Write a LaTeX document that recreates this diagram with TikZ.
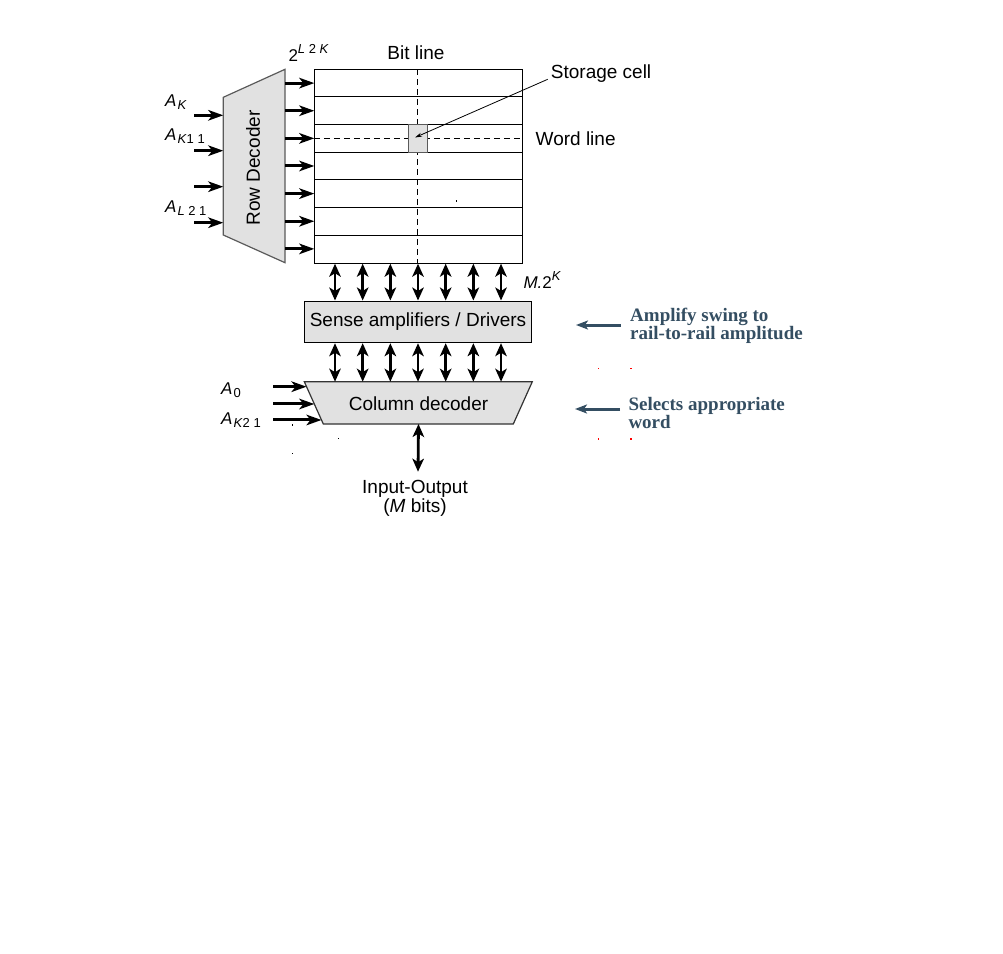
\documentclass[tikz,border=0pt]{standalone}
\usepackage{fontspec}
\setmainfont{Liberation Sans}
\newfontfamily\notefont{Liberation Serif}
\usetikzlibrary{arrows.meta,calc}

\definecolor{boxgray}{RGB}{225,225,225}
\definecolor{edgegray}{RGB}{90,90,90}
\definecolor{noteblue}{RGB}{52,78,98}

\tikzset{
  txt/.style={inner sep=0pt,font=\fontsize{19}{19.5}\selectfont},
  sym/.style={inner sep=0pt,font=\fontsize{17}{17}\selectfont},
  note/.style={inner sep=0pt,align=left,text=noteblue,font=\notefont\bfseries\fontsize{19}{16}\selectfont},
  sig/.style={line width=3pt,-{Stealth[length=15pt,width=10.5pt,inset=4pt]}},
  bus/.style={line width=2.8pt,{Stealth[length=13pt,width=11.5pt,inset=3.5pt]}-{Stealth[length=13pt,width=11.5pt,inset=3.5pt]}},
  pointer/.style={noteblue,line width=3pt,-{Stealth[length=12pt,width=9pt,inset=3pt]}},
  decoder/.style={draw=edgegray,fill=boxgray,line width=1.2pt},
  gridline/.style={line width=1pt},
  wire/.style={line width=1pt,dash pattern=on 6pt off 4pt},
}
\newcommand\addr[1]{\textit{A}\kern1pt\raisebox{-3.5pt}{\fontsize{13}{13}\selectfont#1}}

\begin{document}
\begin{tikzpicture}[x=1pt,y=-1pt]
\useasboundingbox (0,0) rectangle (1003,953);

% row decoder
\coordinate (rdtl) at (223.3,97.3);
\coordinate (rdtr) at (285,69.3);
\coordinate (rdbr) at (285,262.7);
\coordinate (rdbl) at (223.3,235);
\draw[decoder] (rdtl) -- (rdtr) -- (rdbr) -- (rdbl) -- cycle;
\node[txt,rotate=90] (rowdec) at (253,168) {Row Decoder};

% memory array
\node[draw,gridline,inner sep=0pt,minimum width=208pt,minimum height=193.4pt,anchor=north west] (array) at (314.3,69.3) {};
\foreach \i in {1,...,6}
  \draw[gridline] ($(array.north west)+(0,{27.63*\i})$) -- ($(array.north east)+(0,{27.63*\i})$);
\coordinate (cellc) at (417.8,138.3);
\draw[wire] (cellc |- array.north) -- (cellc |- array.south);
\draw[wire] (cellc -| array.west) -- (cellc -| array.east);
\node[draw=edgegray,fill=boxgray,line width=1pt,inner sep=0pt,minimum width=19pt,minimum height=28pt] (cell) at (cellc) {};

\node[txt,anchor=base] (bitline) at (416,59.3) {Bit line};
\node[txt,anchor=base west] (storage) at (550.7,78.3) {Storage cell};
\node[txt,anchor=base west] (wordline) at (535.5,145) {Word line};
\coordinate (celltip) at (415,137.5);
\draw[line width=0.8pt,-{Stealth[length=7pt,width=4pt]}] ($(storage.base west)+(-3,1)$) -- (celltip);
\node[sym,anchor=base west] (rows) at (288.3,61.7) {2\raisebox{8.5pt}{\fontsize{13}{13}\selectfont\textit{L} 2 \textit{K}}};

% decoder outputs and address inputs
\foreach \i in {0,...,6}
  \draw[sig] ($(rdtr)+(0,{13.8+27.63*\i})$) -- ($(array.north west)+(0,{13.8+27.63*\i})$);
\foreach \y in {115.3,150.7,186.7,222.7}
  \draw[sig] (194.3,\y) -- (rdtl |- 0,\y);
\node[sym,anchor=base west] (ak) at (165,106) {\addr{\textit{K}}};
\node[sym,anchor=base west] (ak1) at (165,140) {\addr{\textit{K}1 1}};
\node[sym,anchor=base west] (al1) at (165,212) {\addr{\textit{L} 2 1}};

% sense amplifiers
\node[txt,draw,fill=boxgray,line width=1pt,minimum width=227.4pt,minimum height=41.7pt] (sense) at (418,321.85) {Sense amplifiers / Drivers};
\foreach \i [evaluate=\i as \x using 335+27.67*\i] in {0,...,6}
  \draw[bus] (\x,0 |- array.south) -- (\x,0 |- sense.north);
\node[sym,anchor=base west] (width) at (523.3,288.3) {\textit{M.}2\raisebox{8pt}{\fontsize{13}{13}\selectfont\textit{K}}};

% column decoder
\coordinate (cdtl) at (304.3,381.7);
\coordinate (cdtr) at (532.3,381.7);
\coordinate (cdbr) at (513.3,424);
\coordinate (cdbl) at (323.3,424);
\draw[decoder,draw=black!80] (cdtl) -- (cdtr) -- (cdbr) -- (cdbl) -- cycle;
\node[txt] (coldec) at (418.5,403.5) {Column decoder};
\foreach \i [evaluate=\i as \x using 335+27.67*\i] in {0,...,6}
  \draw[bus] (\x,0 |- sense.south) -- (\x,0 |- cdtl);
\foreach \t/\name in {0.118/c0,0.527/c1,0.905/c2}
  \path ($(cdtl)!\t!(cdbl)$) coordinate (\name);
\foreach \name in {c0,c1,c2}
  \draw[sig] (\name -| 273.3,0) -- (\name);
\node[sym,anchor=base west] (a0) at (221,394) {\addr{0}};
\node[sym,anchor=base west] (ak2) at (221,424) {\addr{\textit{K}2 1}};

% input-output
\coordinate (io) at (418,471.7);
\draw[bus] (coldec |- cdbl) -- (io);
\node[txt,align=center,anchor=north] (iotext) at (415,480) {Input-Output\\(\textit{M} bits)};

% notes
\node[note,anchor=north west] (note1) at (630,307.5) {Amplify swing to\\rail-to-rail amplitude};
\node[note,anchor=north west,font=\notefont\bfseries\fontsize{19}{15}\selectfont] (note2) at (628.3,397) {Selects appropriate\\word};
\coordinate (n1) at (576,325);
\coordinate (n2) at (575,409);
\draw[pointer] ($(n1 -| note1.west)+(-9.5,0)$) -- (n1);
\draw[pointer] ($(n2 -| note2.west)+(-8.3,0)$) -- (n2);

% specks
\foreach \p in {(291.7,424),(337.7,437.7),(291.7,452.7),(455.7,200)}
  \fill \p rectangle ++(1.5,1.5);
\foreach \p in {(597.7,367.7),(630,367.7),(597.7,438.3),(630,438.3)}
  \fill[red] \p rectangle ++(1.5,1.5);
\end{tikzpicture}
\end{document}
